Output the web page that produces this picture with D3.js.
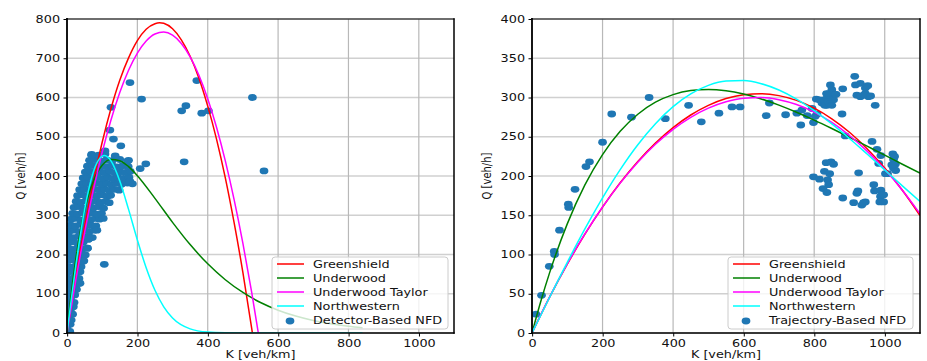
<!DOCTYPE html>
<html>
<head>
<meta charset="utf-8">
<script src="https://cdn.jsdelivr.net/npm/d3@7"></script>
<style>
  body { margin: 0; background: #fff; }
  text { font-family: "DejaVu Sans", sans-serif; }
</style>
</head>
<body>
<svg id="chart" width="927" height="361"></svg>
<script>
// ticks
const kTicks = [0, 200, 400, 600, 800, 1000];
const qTicksDetector = [0, 100, 200, 300, 400, 500, 600, 700, 800];
const qTicksTrajectory = [0, 50, 100, 150, 200, 250, 300, 350, 400];

const modelNames = ['Greenshield', 'Underwood', 'Underwood Taylor', 'Northwestern'];
const modelColors = ['#ff0000', '#008000', '#ff00ff', '#00ffff'];

// left panel: fitted curves, [K, Q]
const detGreenshield = [[0,0],[25,143],[50,272],[75,386],[100,486],[125,572],[150,644],[175,701],[200,745],[225,774],[250,788],[263,790.5],[275,789],[300,775],[325,747],[350,705],[375,649],[400,578],[425,494],[450,395],[475,281],[500,154],[525,12],[550,-144]];
const detUnderwood = [[0,0],[10,84.5],[25,188.7],[50,312.2],[75,387.5],[100,427.5],[125,442.2],[150,439.1],[175,423.9],[200,400.9],[250,343.1],[300,281.9],[350,225.2],[400,176.2],[450,135.7],[500,103.2],[550,77.7],[600,58.1],[650,43.1],[700,31.8],[750,23.3],[800,17],[840,13.2]];
const detTaylor = [[0,0],[25,134.5],[50,256],[75,364.6],[100,460.2],[125,542.8],[150,612.6],[175,669.3],[200,713.1],[225,743.9],[250,761.8],[275,766.7],[300,758.7],[325,737.6],[350,703.7],[375,656.9],[400,597],[425,524.3],[450,438.5],[475,339.8],[500,228.1],[525,103.4],[550,-34.3]];
const detNorthwestern = [[0,0],[10,70],[25,170.9],[50,314.5],[75,410.5],[100,450.5],[106,452],[125,438.4],[150,387.4],[175,314.9],[200,237.1],[225,166.3],[250,108.9],[275,66.8],[300,38.4],[350,10.6],[400,2.3],[450,0.4],[500,0],[840,0]];

// left panel: detector measurements
const detPoints = [
  [3,5],[8,4],[2,20],[9,22],[3,35],[12,33],[2,50],[10,52],[16,48],[3,65],[12,63],[18,67],
  [2,80],[10,82],[20,78],[3,95],[12,93],[22,97],[2,110],[11,112],[20,108],[27,111],
  [3,125],[13,127],[24,123],[33,126],[2,140],[12,138],[22,142],[34,139],[3,155],[14,157],[25,153],[37,156],
  [2,170],[13,168],[26,172],[40,169],[4,185],[15,187],[28,183],[40,186],[48,184],
  [3,200],[14,202],[27,198],[40,201],[52,199],[4,215],[16,213],[30,217],[44,214],[58,216],
  [5,230],[18,232],[32,228],[46,231],[60,239],[6,245],[20,243],[34,247],[48,244],[62,246],[72,243],
  [8,260],[22,262],[36,258],[50,261],[64,259],[78,262],[10,275],[24,273],[38,277],[52,274],[66,276],[82,273],
  [12,290],[26,292],[40,288],[54,291],[68,289],[82,292],[92,290],[16,305],[30,303],[44,307],[58,304],[72,306],[86,303],[98,305],
  [20,320],[34,322],[48,318],[62,321],[76,319],[90,322],[104,318],[26,335],[40,333],[54,337],[68,334],[82,336],[96,333],[110,335],
  [30,350],[44,352],[58,348],[72,351],[86,349],[100,352],[114,348],[124,351],
  [36,365],[50,367],[64,363],[78,366],[92,364],[106,367],[120,363],[134,366],[148,364],
  [42,380],[56,382],[70,378],[84,381],[98,379],[112,382],[126,378],[140,381],[155,379],[172,382],[186,380],
  [46,395],[60,397],[74,393],[88,396],[102,394],[116,397],[130,393],[145,396],[160,394],[176,397],
  [52,410],[66,412],[80,408],[94,411],[108,409],[122,412],[136,408],[150,411],[166,409],[180,412],
  [58,425],[72,427],[86,423],[100,426],[114,424],[128,427],[142,423],[158,426],[174,424],
  [64,440],[80,442],[96,438],[112,441],[128,439],[150,442],[172,438],[70,455],[90,453],[108,456],
  [179,638],[212,596],[125,575],[369,643],[338,579],[326,566],[383,560],[402,566],[527,600],
  [333,436],[560,413],[224,431],[208,419],[106,175],[153,477],[122,517],[132,494],[137,451],
  [175,440],[179,386],[103,292],[120,332],[70,453],[108,464],[37,127],[46,183],[85,262],[61,239],[58,216]
];

// right panel: fitted curves, [K, Q]
const trajGreenshield = [[0,0],[50,45.7],[100,87.6],[150,125.9],[200,160.4],[250,191.3],[300,218.4],[350,241.9],[400,261.6],[450,277.7],[500,290],[550,298.7],[600,303.6],[650,304.9],[700,302.4],[750,296.3],[800,286.5],[850,272.9],[900,255.7],[950,234.8],[1000,210.1],[1050,181.8],[1100,149.7]];
const trajUnderwood = [[0,0],[25,40.4],[50,76.9],[100,139],[150,188.6],[200,227.3],[250,256.9],[300,278.7],[350,294],[400,303.7],[450,308.9],[500,310.3],[550,308.6],[600,304.4],[650,298.2],[700,290.3],[750,281.2],[800,271.2],[850,260.5],[900,249.4],[950,238],[1000,226.6],[1050,215],[1100,203.6]];
const trajTaylor = [[0,0],[50,46],[100,88.1],[150,126.2],[200,160.5],[250,190.9],[300,217.6],[350,240.4],[400,259.5],[450,274.8],[500,286.5],[550,294.6],[600,299],[650,299.9],[700,297.2],[750,291],[800,281.3],[850,268.2],[900,251.6],[950,231.7],[1000,208.5],[1050,181.9],[1100,152]];
const trajNorthwestern = [[0,0],[50,45.5],[100,90],[150,132.6],[200,172.2],[250,208.2],[300,239.9],[350,266.7],[400,288.4],[450,304.6],[500,315.5],[550,321],[600,321.6],[650,317.6],[700,309.5],[750,297.9],[800,283.2],[850,266.4],[900,247.8],[950,228],[1000,207.8],[1050,187.4],[1100,167.4]];

// right panel: trajectory measurements
const trajPoints = [
  [11,24],[27,48],[49,85],[63,104],[64,100],[78,131],[103,164],[104,160],[122,183],[153,212],[163,218],
  [200,243],[226,279],[282,275],[332,300],[378,273],[444,290],[480,269],[530,280],[567,288],[590,288],
  [664,277],[673,293],[719,278],[751,280],[762,265],[765,284],[780,277],[794,286],[798,268],[803,276],[808,279],
  [806,298],[815,297],[822,293],[827,297],[836,299],[836,290],[846,301],[841,305],[850,310],[855,297],[860,304],
  [846,316],[830,290],[840,295],[835,305],[845,292],[850,290],[862,304],[879,279],[881,311],[888,251],
  [915,327],[917,316],[921,303],[931,301],[931,318],[945,312],[952,315],[954,301],[945,305],[940,303],[960,302],
  [973,290],[964,244],[978,234],[983,216],[989,226],[1008,203],[1023,228],[1025,221],[1030,215],[1025,210],
  [1031,207],[1020,214],[1028,225],[798,199],[815,196],[829,206],[844,203],[838,195],[841,189],[825,184],
  [836,179],[834,217],[848,218],[855,215],[881,172],[912,166],[924,181],[921,178],[926,204],[935,163],
  [945,167],[940,166],[969,189],[971,181],[989,182],[988,174],[986,167],[997,167],[992,176],[997,176],[1002,203]
];

const sx = 1.28; // the reference is stretched horizontally
const svg = d3.select('#chart');
svg.append('rect').attr('width', 927).attr('height', 361).attr('fill', '#fff');
const root = svg.append('g').attr('transform', `scale(${sx},1)`);

const drawPanel = (p) => {
  const x = d3.scaleLinear().domain([0, 1100]).range([p.left / sx, p.right / sx]);
  const y = d3.scaleLinear().domain([0, p.qMax]).range([333, 19]);
  const g = root.append('g');

  // grid
  g.append('g').selectAll('line').data(p.qTicks).join('line')
    .attr('x1', x(0)).attr('x2', x(1100))
    .attr('y1', (d) => y(d)).attr('y2', (d) => y(d))
    .attr('stroke', '#d0d0d0').attr('stroke-width', 1.6)
    .attr('vector-effect', 'non-scaling-stroke');
  g.append('g').selectAll('line').data(kTicks).join('line')
    .attr('x1', (d) => x(d)).attr('x2', (d) => x(d))
    .attr('y1', y(0)).attr('y2', y(p.qMax))
    .attr('stroke', '#b8b8b8').attr('stroke-width', 1.2)
    .attr('vector-effect', 'non-scaling-stroke');

  const clipId = 'clip-' + p.id;
  g.append('clipPath').attr('id', clipId).append('rect')
    .attr('x', x(0)).attr('y', y(p.qMax))
    .attr('width', x(1100) - x(0)).attr('height', y(0) - y(p.qMax));
  const plot = g.append('g').attr('clip-path', `url(#${clipId})`);

  plot.append('g').selectAll('circle').data(p.points).join('circle')
    .attr('cx', (d) => x(d[0])).attr('cy', (d) => y(d[1]))
    .attr('r', 3.4).attr('fill', '#1f77b4');

  const line = d3.line().x((d) => x(d[0])).y((d) => y(d[1])).curve(d3.curveMonotoneX);
  p.curves.forEach((c, i) => {
    plot.append('path').datum(c).attr('d', line)
      .attr('fill', 'none').attr('stroke', modelColors[i]).attr('stroke-width', 1.5)
      .attr('vector-effect', 'non-scaling-stroke');
  });

  // axes
  const xAxis = g.append('g').attr('transform', `translate(0,${y(0)})`)
    .call(d3.axisBottom(x).tickValues(kTicks).tickFormat(d3.format('d'))
      .tickSize(3.5).tickPadding(3.5));
  const yAxis = g.append('g').attr('transform', `translate(${x(0)},0)`)
    .call(d3.axisLeft(y).tickValues(p.qTicks).tickFormat(d3.format('d'))
      .tickSize(3.5 / sx).tickPadding(3.5 / sx));
  [xAxis, yAxis].forEach((a) => {
    a.select('.domain').remove();
    a.attr('font-family', '"DejaVu Sans", sans-serif').attr('font-size', 10);
    a.selectAll('text').attr('fill', '#111');
    a.selectAll('line').attr('vector-effect', 'non-scaling-stroke').attr('stroke', '#000');
  });

  // spines
  const frame = [
    [x(0), y(0), x(0), y(p.qMax), 1.8],
    [x(1100), y(0), x(1100), y(p.qMax), 1.5],
    [x(0), y(p.qMax), x(1100), y(p.qMax), 1.1],
    [x(0), y(0), x(1100), y(0), 1.3],
  ];
  g.append('g').selectAll('line').data(frame).join('line')
    .attr('x1', (d) => d[0]).attr('y1', (d) => d[1])
    .attr('x2', (d) => d[2]).attr('y2', (d) => d[3])
    .attr('stroke', '#000').attr('stroke-width', (d) => d[4])
    .attr('stroke-linecap', 'square')
    .attr('vector-effect', 'non-scaling-stroke');

  // labels
  g.append('text').attr('x', (x(0) + x(1100)) / 2).attr('y', 358)
    .attr('text-anchor', 'middle').attr('font-size', 10).attr('fill', '#111')
    .text('K [veh/km]');
  g.append('text')
    .attr('transform', `translate(${p.yLabelX / sx},${(y(0) + y(p.qMax)) / 2}) rotate(-90)`)
    .attr('text-anchor', 'middle').attr('font-size', 10).attr('fill', '#111')
    .text('Q [veh/h]');

  // legend
  const lg = g.append('g');
  lg.append('rect')
    .attr('x', p.legendLeft / sx).attr('y', 257)
    .attr('width', (p.legendRight - p.legendLeft) / sx).attr('height', 72)
    .attr('rx', 2.5).attr('ry', 3)
    .attr('fill', '#fff').attr('fill-opacity', 0.8)
    .attr('stroke', '#cccccc').attr('stroke-width', 1)
    .attr('vector-effect', 'non-scaling-stroke');
  const rowY = (i) => 264 + i * 14;
  modelNames.forEach((name, i) => {
    lg.append('line')
      .attr('x1', (p.legendLeft + 5) / sx).attr('x2', (p.legendLeft + 32) / sx)
      .attr('y1', rowY(i)).attr('y2', rowY(i))
      .attr('stroke', modelColors[i]).attr('stroke-width', 1.5)
      .attr('vector-effect', 'non-scaling-stroke');
    lg.append('text').attr('x', (p.legendLeft + 41) / sx).attr('y', rowY(i) + 3.6)
      .attr('font-size', 10).attr('fill', '#111').text(name);
  });
  lg.append('circle').attr('cx', (p.legendLeft + 18) / sx).attr('cy', rowY(4) + 1)
    .attr('r', 3.4).attr('fill', '#1f77b4');
  lg.append('text').attr('x', (p.legendLeft + 41) / sx).attr('y', rowY(4) + 3.6)
    .attr('font-size', 10).attr('fill', '#111').text(p.pointLabel);
};

drawPanel({
  id: 'detector', left: 67, right: 454, qMax: 800, qTicks: qTicksDetector,
  curves: [detGreenshield, detUnderwood, detTaylor, detNorthwestern],
  points: detPoints, pointLabel: 'Detector-Based NFD',
  yLabelX: 25, legendLeft: 272, legendRight: 448,
});
drawPanel({
  id: 'trajectory', left: 532, right: 920, qMax: 400, qTicks: qTicksTrajectory,
  curves: [trajGreenshield, trajUnderwood, trajTaylor, trajNorthwestern],
  points: trajPoints, pointLabel: 'Trajectory-Based NFD',
  yLabelX: 490.5, legendLeft: 728, legendRight: 913,
});
</script>
</body>
</html>
